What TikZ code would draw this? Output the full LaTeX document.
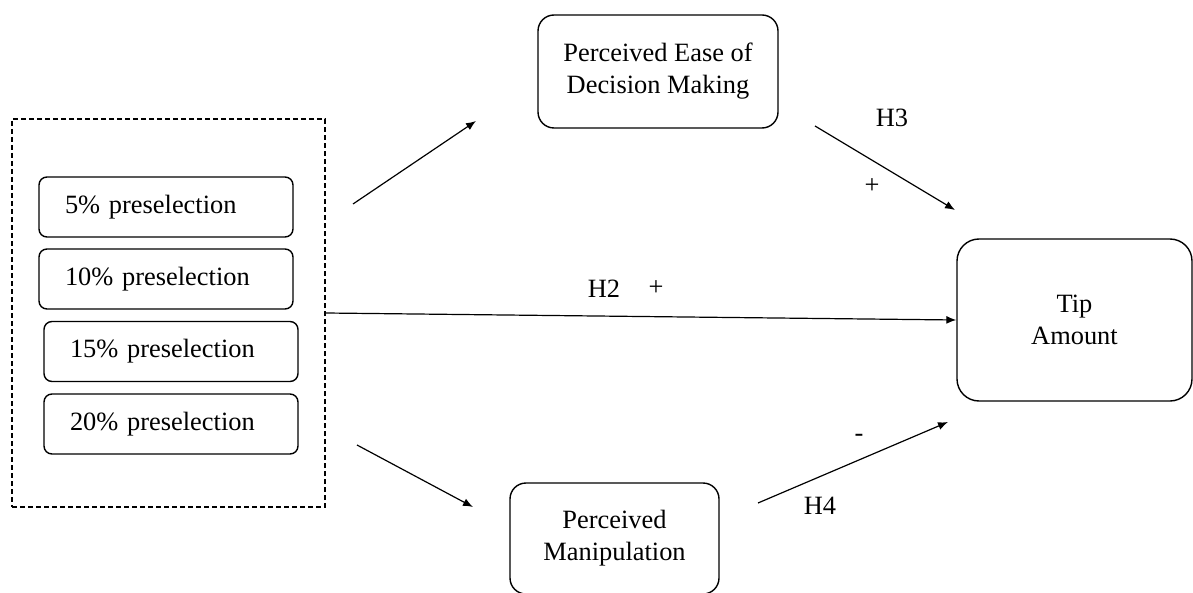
\documentclass[tikz,border=0pt]{standalone}
\usepackage{fontspec}
\setmainfont{Liberation Serif}
\usetikzlibrary{arrows.meta}

\begin{document}
\begin{tikzpicture}[x=0.5pt,y=-0.5pt,
        every node/.style={font=\fontsize{13.2}{16}\selectfont},
        optbox/.style={draw,line width=0.7pt,rounded corners=4pt,inner xsep=13pt,
            text width=101pt,align=left,minimum height=30pt},
        varbox/.style={draw,line width=0.7pt,align=center},
        link/.style={line width=0.6pt,-{Latex[length=5pt,width=4pt]}}]
        \useasboundingbox (0,0) rectangle (1193,593);
        \node [draw,dash pattern=on 2.5pt off 1.5pt,line width=0.6pt,minimum width=156.5pt,minimum height=194pt] (grp) at (168.5,313) {};
        \node [optbox] (p5) at (166,207) {5\% preselection};
        \node [optbox] (p10) at (166,279) {10\% preselection};
        \node [optbox] (p15) at (171,351.5) {15\% preselection};
        \node [optbox] (p20) at (171,424) {20\% preselection};
        \node [varbox,rounded corners=8pt,minimum width=120pt,minimum height=56.5pt] (ease) at (658,71.5)
            {Perceived Ease of\\Decision Making};
        \node [varbox,rounded corners=8pt,minimum width=104.5pt,minimum height=55.5pt] (manip) at (614.5,538.5)
            {Perceived\\Manipulation};
        \node [varbox,rounded corners=11pt,minimum width=117.5pt,minimum height=81pt] (tip) at (1074.5,320)
            {Tip\\Amount};
        \coordinate (e1s) at (353,204);
        \coordinate (e1e) at (476,121);
        \coordinate (m1s) at (357,445);
        \coordinate (m1e) at (473,507);
        \coordinate (h3s) at (815,126);
        \coordinate (h3e) at (955,210);
        \coordinate (h4s) at (758,503);
        \coordinate (h4e) at (948,422);
        \draw [link] (e1s) -- (e1e);
        \draw [link] (m1s) -- (m1e);
        \draw [link] (grp.east) -- (tip.west);
        \draw [link] (h3s) -- (h3e);
        \draw [link] (h4s) -- (h4e);
        \node (h2) at (604,289) {H2};
        \node (h2s) at (656,288) {+};
        \node (h3) at (892,118) {H3};
        \node (h3sg) at (872,186) {+};
        \node (h4) at (820,506) {H4};
        \node (h4sg) at (859,438) {-};
    \end{tikzpicture}
\end{document}
